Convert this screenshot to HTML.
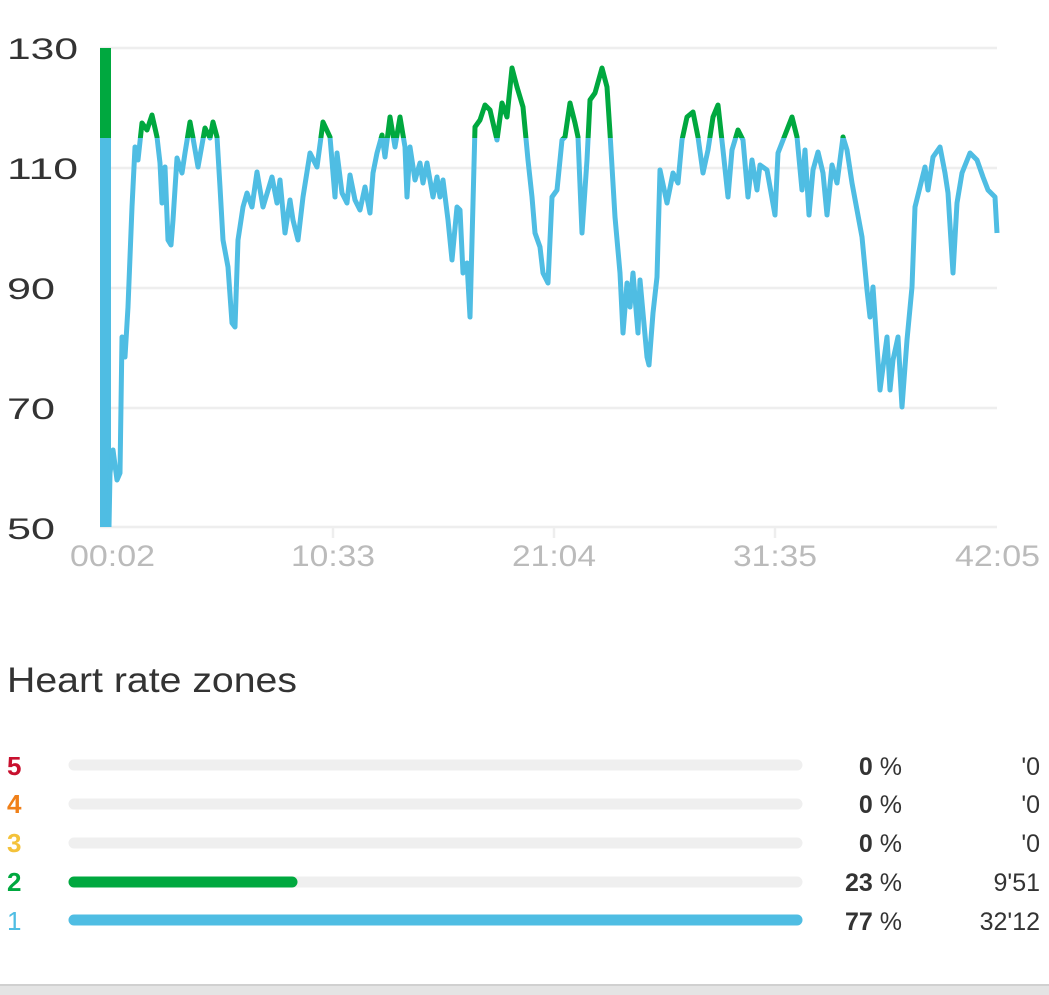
<!DOCTYPE html>
<html><head><meta charset="utf-8"><style>
html,body{margin:0;padding:0;background:#fff;width:1049px;height:995px;overflow:hidden}
svg{display:block}
text{font-family:"Liberation Sans",sans-serif}
</style></head><body>
<svg width="1049" height="995" viewBox="0 0 1049 995">
<defs>
<clipPath id="top"><rect x="0" y="0" width="1049" height="138"/></clipPath>
<clipPath id="bot"><rect x="0" y="138" width="1049" height="500"/></clipPath>
</defs>
<g stroke="#eeeeee" stroke-width="2.5">
<line x1="100" y1="48" x2="997" y2="48"/>
<line x1="100" y1="168" x2="997" y2="168"/>
<line x1="100" y1="288" x2="997" y2="288"/>
<line x1="100" y1="408" x2="997" y2="408"/>
<line x1="100" y1="527" x2="997" y2="527"/>
<line x1="333" y1="527" x2="333" y2="538"/>
<line x1="554" y1="527" x2="554" y2="538"/>
<line x1="775" y1="527" x2="775" y2="538"/>
</g>
<g font-size="30" fill="#333">
<text x="7" y="59" textLength="71" lengthAdjust="spacingAndGlyphs">130</text>
<text x="7" y="179" textLength="71" lengthAdjust="spacingAndGlyphs">110</text>
<text x="7" y="299" textLength="48" lengthAdjust="spacingAndGlyphs">90</text>
<text x="7" y="419" textLength="48" lengthAdjust="spacingAndGlyphs">70</text>
<text x="7" y="539" textLength="48" lengthAdjust="spacingAndGlyphs">50</text>
</g>
<g font-size="30" fill="#bbbbbb">
<text x="70" y="566" textLength="85" lengthAdjust="spacingAndGlyphs">00:02</text>
<text x="291" y="566" textLength="84" lengthAdjust="spacingAndGlyphs">10:33</text>
<text x="512" y="566" textLength="84" lengthAdjust="spacingAndGlyphs">21:04</text>
<text x="733" y="566" textLength="84" lengthAdjust="spacingAndGlyphs">31:35</text>
<text x="955" y="566" textLength="85" lengthAdjust="spacingAndGlyphs">42:05</text>
</g>
<rect x="100" y="48" width="11" height="90" fill="#00a83f"/>
<rect x="100" y="138" width="11" height="389" fill="#4fbde3"/>
<polyline fill="none" stroke-width="5" stroke-linejoin="round" stroke="#4fbde3" clip-path="url(#bot)" points="109,527 110,473 113,450 117,480 120,473 122,337 125,357 128,307 132,207 135,147 138,160 142,123 147,130 152,115 157,137 160,163 162,203 165,167 168,240 171,245 173,220 177,158 182,173 185,153 190,122 193,138 198,167 205,128 210,138 213,122 217,137 220,187 223,240 228,267 232,323 235,327 238,240 243,207 247,193 252,207 257,172 263,207 272,177 277,203 280,180 285,233 290,200 293,220 298,240 303,197 310,153 317,167 323,122 330,137 335,197 337,153 342,193 347,203 350,175 355,200 360,210 365,187 370,213 373,173 377,153 382,135 385,157 390,117 395,147 400,117 405,147 407,197 410,147 415,180 420,163 423,183 427,163 433,197 437,177 440,197 443,180 448,220 452,260 457,207 460,210 463,273 467,263 470,317 475,127 480,120 485,105 490,110 497,140 502,103 507,117 512,68 517,87 523,107 528,160 532,197 535,233 540,247 543,273 548,283 552,197 557,190 562,140 565,137 570,103 575,123 578,137 582,233 587,160 590,100 595,93 602,68 607,87 610,133 615,217 620,273 623,333 627,283 630,307 633,273 638,333 640,280 647,357 649,365 653,313 657,277 660,170 667,203 673,173 678,183 682,140 687,117 693,112 698,137 703,173 708,150 713,117 718,105 723,150 728,197 732,150 738,130 743,140 748,197 752,160 757,190 760,165 767,170 775,215 778,153 785,135 792,117 797,137 802,190 805,150 809,215 813,170 818,152 823,173 827,215 832,165 837,183 843,137 847,150 852,183 857,210 862,237 867,290 870,317 873,287 880,390 887,337 890,390 893,360 898,337 902,407 907,340 912,287 915,207 920,187 925,167 928,190 933,157 940,147 945,173 948,193 953,273 957,203 962,173 970,153 977,160 983,177 988,190 995,197 997,233"/>
<polyline fill="none" stroke-width="5" stroke-linejoin="round" stroke="#00a83f" clip-path="url(#top)" points="135,147 138,160 142,123 147,130 152,115 157,137 160,163 177,158 182,173 185,153 190,122 193,138 198,167 205,128 210,138 213,122 217,137 220,187 310,153 317,167 323,122 330,137 335,197 377,153 382,135 385,157 390,117 395,147 400,117 405,147 407,197 470,317 475,127 480,120 485,105 490,110 497,140 502,103 507,117 512,68 517,87 523,107 528,160 557,190 562,140 565,137 570,103 575,123 578,137 582,233 587,160 590,100 595,93 602,68 607,87 610,133 615,217 678,183 682,140 687,117 693,112 698,137 703,173 708,150 713,117 718,105 723,150 728,197 732,150 738,130 743,140 748,197 778,153 785,135 792,117 797,137 802,190 837,183 843,137 847,150"/>
<text x="7" y="692" font-size="35" fill="#333" textLength="290" lengthAdjust="spacingAndGlyphs">Heart rate zones</text>
<g font-size="26" font-weight="bold">
<text x="7" y="775" fill="#c8102e">5</text>
<text x="7" y="813" fill="#f08019">4</text>
<text x="7" y="852" fill="#f4c23a">3</text>
<text x="7" y="891" fill="#00a83f">2</text>
<text x="7" y="930" fill="#4fbde3" font-weight="normal">1</text>
</g>
<g stroke="#efefef" stroke-width="11" stroke-linecap="round">
<line x1="74" y1="765" x2="797" y2="765"/>
<line x1="74" y1="804" x2="797" y2="804"/>
<line x1="74" y1="843" x2="797" y2="843"/>
<line x1="74" y1="882" x2="797" y2="882"/>
<line x1="74" y1="920" x2="797" y2="920"/>
</g>
<line x1="74" y1="882" x2="292" y2="882" stroke="#00a83f" stroke-width="11" stroke-linecap="round"/>
<line x1="74" y1="920" x2="797" y2="920" stroke="#4fbde3" stroke-width="11" stroke-linecap="round"/>
<g font-size="25" fill="#333" text-anchor="end">
<text x="902" y="775"><tspan font-weight="bold">0</tspan> %</text>
<text x="902" y="813"><tspan font-weight="bold">0</tspan> %</text>
<text x="902" y="852"><tspan font-weight="bold">0</tspan> %</text>
<text x="902" y="891"><tspan font-weight="bold">23</tspan> %</text>
<text x="902" y="930"><tspan font-weight="bold">77</tspan> %</text>
<text x="1040" y="775">'0</text>
<text x="1040" y="813">'0</text>
<text x="1040" y="852">'0</text>
<text x="1040" y="891">9'51</text>
<text x="1040" y="930">32'12</text>
</g>
<rect x="0" y="985" width="1049" height="10" fill="#e4e4e4"/>
<rect x="0" y="984" width="1049" height="2" fill="#d0d0d0"/>
</svg>
</body></html>
